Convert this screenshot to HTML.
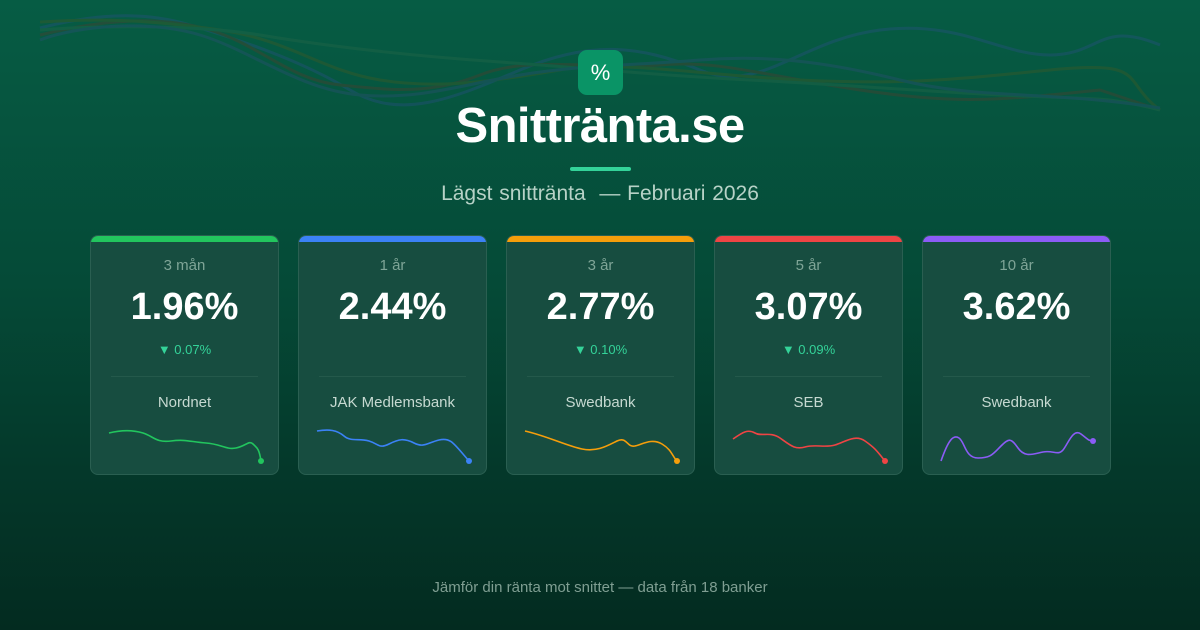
<!DOCTYPE html>
<html><head><meta charset="utf-8"><style>
body{margin:0;width:1200px;height:630px;overflow:hidden;font-family:"Liberation Sans",sans-serif;background:linear-gradient(180deg,#065c44 0%,#054a37 45%,#04382a 75%,#032b20 100%);position:relative}
.bg{position:absolute;left:0;top:0}
.logo{position:absolute;left:578px;top:50px;width:45px;height:45px;border-radius:9px;background:#0a9466;color:#fff;font-size:22px;text-align:center;line-height:45px}
h1{position:absolute;top:98px;left:0;width:1200px;margin:0;text-align:center;color:#fff;font-size:49px;font-weight:bold;letter-spacing:-0.6px}
.bar{position:absolute;left:570px;top:167px;width:61px;height:4px;background:#34d399;border-radius:2px}
.sub{position:absolute;top:182px;width:1200px;text-align:center;color:#b7d2c7;font-size:21px;word-spacing:1px}
.card{position:absolute;top:235px;width:189px;height:240px;background:#174d40;border:1px solid #2a5f51;border-radius:8px;box-sizing:border-box;overflow:hidden;text-align:center}
.card .t{position:absolute;top:0;left:0;right:0;height:6px}
.lab{position:absolute;top:21px;width:100%;color:#7fa597;font-size:15px}
.val{position:absolute;top:50px;width:100%;color:#fff;font-size:38px;font-weight:bold}
.ch{position:absolute;top:106px;width:100%;color:#34d399;font-size:13px}
.hr{position:absolute;top:140px;left:20px;right:20px;height:1px;background:#24594b}
.bank{position:absolute;top:158px;width:100%;color:#c6d9d1;font-size:15px}
.card svg{position:absolute;left:0;top:180px}
.foot{position:absolute;top:579px;width:1200px;text-align:center;color:#7f9e92;font-size:15px}
</style></head><body>
<svg class="bg" width="1200" height="130" fill="none" stroke-width="3" opacity="0.35">
<path d="M40 28 C90 15 140 10 190 25 S300 60 350 90 S450 100 520 70 S640 45 700 70 S800 40 880 30 S1000 55 1050 55 S1100 20 1160 45" stroke="#2c4f8a"/>
<path d="M40 35 C100 20 160 15 210 30 S290 80 340 85 S430 95 480 75 S600 70 660 65 S760 75 860 90 S1000 100 1100 90 L1160 110" stroke="#5a3a2a"/>
<path d="M40 22 C100 18 150 20 220 30 S320 70 380 80 S500 80 560 70 S700 75 800 80 S950 80 1050 70 S1120 80 1160 110" stroke="#4a5a20"/>
<path d="M40 30 C100 25 200 25 260 35 S400 55 500 62 S650 75 750 80 S900 90 1000 95 S1100 95 1160 110" stroke="#2a6a4a"/>
<path d="M40 40 C80 25 150 20 200 35 S300 90 360 95 S460 85 520 75 S640 65 700 60 S820 60 900 80 S1050 90 1160 108" stroke="#2e4e7a"/>
</svg>
<div class="logo">%</div>
<h1>Snittränta.se</h1>
<div class="bar"></div>
<div class="sub">Lägst snittränta &nbsp;— Februari 2026</div>

<div class="card" style="left:90px"><div class="t" style="background:#22c55e"></div><div class="lab">3 mån</div><div class="val">1.96%</div><div class="ch">▼ 0.07%</div><div class="hr"></div><div class="bank">Nordnet</div>
<svg width="189" height="60"><path d="M18 17 C30 14 42 14 52 17 S65 27 80 25 S100 26 115 27 S135 34 145 32 S158 24 162 28 S168 32 170 45" stroke="#22c55e" stroke-width="1.6" fill="none"/><circle cx="170" cy="45" r="3" fill="#22c55e"/></svg></div>

<div class="card" style="left:298px"><div class="t" style="background:#3b82f6"></div><div class="lab">1 år</div><div class="val">2.44%</div><div class="hr"></div><div class="bank">JAK Medlemsbank</div>
<svg width="189" height="60"><path d="M18 15 C30 13 38 14 45 20 S60 22 70 25 S80 33 90 28 S105 22 115 27 S128 27 140 24 S155 28 170 45" stroke="#3b82f6" stroke-width="1.6" fill="none"/><circle cx="170" cy="45" r="3" fill="#3b82f6"/></svg></div>

<div class="card" style="left:506px"><div class="t" style="background:#f59e0b"></div><div class="lab">3 år</div><div class="val">2.77%</div><div class="ch">▼ 0.10%</div><div class="hr"></div><div class="bank">Swedbank</div>
<svg width="189" height="60"><path d="M18 15 C40 20 60 30 75 33 S100 30 110 25 S120 32 128 30 S145 22 155 28 S165 40 170 45" stroke="#f59e0b" stroke-width="1.6" fill="none"/><circle cx="170" cy="45" r="3" fill="#f59e0b"/></svg></div>

<div class="card" style="left:714px"><div class="t" style="background:#ef4444"></div><div class="lab">5 år</div><div class="val">3.07%</div><div class="ch">▼ 0.09%</div><div class="hr"></div><div class="bank">SEB</div>
<svg width="189" height="60"><path d="M18 23 C28 16 33 13 40 17 S55 15 65 22 S80 34 90 31 S110 32 120 29 S140 18 150 25 S162 35 170 45" stroke="#ef4444" stroke-width="1.6" fill="none"/><circle cx="170" cy="45" r="3" fill="#ef4444"/></svg></div>

<div class="card" style="left:922px"><div class="t" style="background:#8b5cf6"></div><div class="lab">10 år</div><div class="val">3.62%</div><div class="hr"></div><div class="bank">Swedbank</div>
<svg width="189" height="60"><path d="M18 45 C25 25 30 18 36 22 S42 42 55 42 S70 38 78 30 S88 22 95 32 S110 38 120 36 S135 40 140 34 S150 12 158 18 S164 24 170 25" stroke="#8b5cf6" stroke-width="1.6" fill="none"/><circle cx="170" cy="25" r="3" fill="#8b5cf6"/></svg></div>

<div class="foot">Jämför din ränta mot snittet — data från 18 banker</div>
</body></html>
